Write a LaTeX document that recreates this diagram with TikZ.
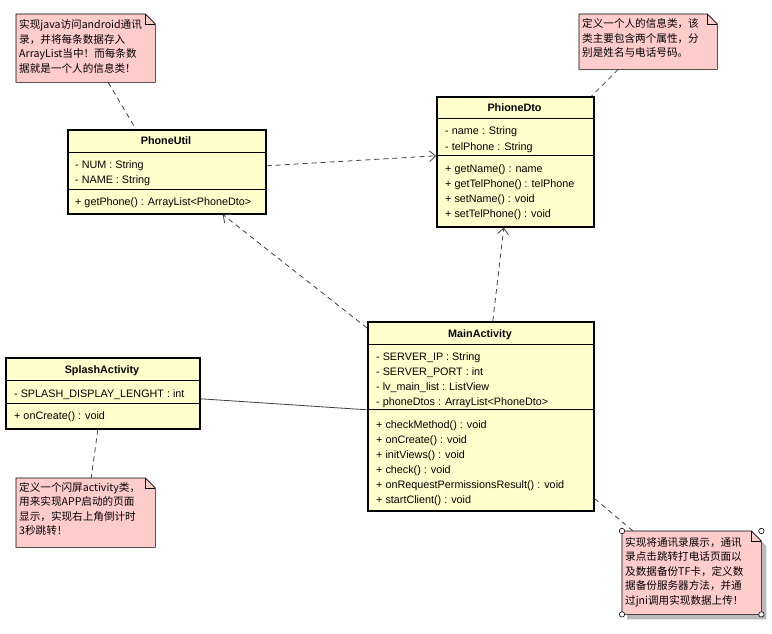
\documentclass[tikz,border=0pt]{standalone}
\usepackage{fontspec}
\setmainfont{Liberation Sans}
\newfontfamily\cjk{Noto Sans CJK SC}
\usepackage{tikz}
\usetikzlibrary{arrows.meta}
\definecolor{ClassFill} {RGB}{255, 255, 204}
\definecolor{NoteFill}  {RGB}{255, 204, 204}
\definecolor{LinkGray}  {RGB}{ 64,  64,  64}
\definecolor{ShadowGray}{RGB}{185, 185, 185}
\newcommand{\drawnote}[1]{%
  \draw[notebox] (#1.south west) -- (#1.north west) -- ([xshift=-10pt]#1.north east)
    -- ([yshift=-10pt]#1.north east) -- (#1.south east) -- cycle;
  \draw[line width=0.6pt] ([xshift=-10pt]#1.north east) -- ([xshift=-10pt,yshift=-10pt]#1.north east)
    -- ([yshift=-10pt]#1.north east);}

\begin{document}
\begin{tikzpicture}[x=1pt, y=-1pt,
  cls/.style={draw, line width=1.6pt, fill=ClassFill, anchor=north west, inner sep=0pt},
  ttl/.style={font=\fontsize{10.8}{13}\selectfont\bfseries, anchor=base, inner sep=0pt},
  mbr/.style={font=\fontsize{10.8}{13}\selectfont, anchor=base west, inner sep=0pt},
  sep/.style={line width=0.8pt},
  note/.style={anchor=north west, inner sep=0pt},
  notebox/.style={draw, line width=0.6pt, fill=NoteFill},
  ntxt/.style={font=\cjk\fontsize{10.6}{13}\selectfont, anchor=base west, inner sep=0pt},
  dep/.style={dash pattern=on 5pt off 4pt, LinkGray, line width=0.8pt},
  arr/.style={dep, -{Straight Barb[length=6pt,width=11pt]}},
  assoc/.style={LinkGray, line width=0.8pt}
]
  \path[use as bounding box, fill=white] (0,0) rectangle (772,634);

  % classes
  \node[cls, minimum width=198pt, minimum height=84pt] (phoneutil) at (67,129) {};
  \draw[sep] ([yshift=-23pt]phoneutil.north west) -- ([yshift=-23pt]phoneutil.north east);
  \draw[sep] ([yshift=-60pt]phoneutil.north west) -- ([yshift=-60pt]phoneutil.north east);
  \node[ttl] (phoneutil-t) at (166,144) {PhoneUtil};
  \foreach \m [count=\i] in {- NUM : String, - NAME : String}
    \node[mbr] (phoneutil-a\i) at (75,{153+15*\i}) {\m};
  \node[mbr] (phoneutil-m1) at (75,205) {+ getPhone() : ArrayList<PhoneDto>};

  \node[cls, minimum width=157pt, minimum height=130pt] (phonedto) at (436,96) {};
  \draw[sep] ([yshift=-22pt]phonedto.north west) -- ([yshift=-22pt]phonedto.north east);
  \draw[sep] ([yshift=-59pt]phonedto.north west) -- ([yshift=-59pt]phonedto.north east);
  \node[ttl] (phonedto-t) at (514.5,111) {PhioneDto};
  \foreach \m [count=\i] in {- name : String, - telPhone : String}
    \node[mbr] (phonedto-a\i) at (445,{120+15*\i}) {\m};
  \foreach \m [count=\i] in {+ getName() : name, + getTelPhone() : telPhone,
                             + setName() : void, + setTelPhone() : void}
    \node[mbr] (phonedto-m\i) at (445,{157+15*\i}) {\m};

  \node[cls, minimum width=226pt, minimum height=189pt] (mainact) at (367,321) {};
  \draw[sep] ([yshift=-23pt]mainact.north west) -- ([yshift=-23pt]mainact.north east);
  \draw[sep] ([yshift=-88pt]mainact.north west) -- ([yshift=-88pt]mainact.north east);
  \node[ttl] (mainact-t) at (480,337) {MainActivity};
  \foreach \m [count=\i] in {- SERVER\_IP : String, - SERVER\_PORT : int,
                             - lv\_main\_list : ListView, - phoneDtos : ArrayList<PhoneDto>}
    \node[mbr] (mainact-a\i) at (376,{345+15*\i}) {\m};
  \foreach \m [count=\i] in {+ checkMethod() : void, + onCreate() : void, + initViews() : void,
                             + check() : void, + onRequestPermissionsResult() : void,
                             + startClient() : void}
    \node[mbr] (mainact-m\i) at (376,{413+15*\i}) {\m};

  \node[cls, minimum width=194pt, minimum height=71pt] (splash) at (5,357) {};
  \draw[sep] ([yshift=-23pt]splash.north west) -- ([yshift=-23pt]splash.north east);
  \draw[sep] ([yshift=-46pt]splash.north west) -- ([yshift=-46pt]splash.north east);
  \node[ttl] (splash-t) at (102,373) {SplashActivity};
  \node[mbr] (splash-a1) at (14,397) {- SPLASH\_DISPLAY\_LENGHT : int};
  \node[mbr] (splash-m1) at (14,419) {+ onCreate() : void};

  % notes
  \node[note, minimum width=139pt, minimum height=68pt] (nUtil) at (16,14) {};
  \drawnote{nUtil}
  \foreach \t [count=\i] in {实现java访问android通讯, 录，并将每条数据存入,
                             ArrayList当中！而每条数, 据就是一个人的信息类！}
    \node[ntxt] (nUtil-\i) at (19,{14.5+14.5*\i}) {\t};

  \node[note, minimum width=138pt, minimum height=55pt] (nDto) at (579,14) {};
  \drawnote{nDto}
  \foreach \t [count=\i] in {定义一个人的信息类，该, 类主要包含两个属性，分, 别是姓名与电话号码。}
    \node[ntxt] (nDto-\i) at (582,{13.5+14.5*\i}) {\t};

  \node[note, minimum width=139pt, minimum height=69pt] (nSplash) at (16,478) {};
  \drawnote{nSplash}
  \foreach \t [count=\i] in {定义一个闪屏activity类，, 用来实现APP启动的页面,
                             显示，实现右上角倒计时, 3秒跳转！}
    \node[ntxt] (nSplash-\i) at (19,{476.5+14.5*\i}) {\t};

  \node[note, minimum width=139pt, minimum height=83pt] (nMain) at (622,531) {};
  \fill[ShadowGray] ([shift={(5pt,-5pt)}]nMain.south west) -- ([shift={(5pt,-5pt)}]nMain.north west)
    -- ([shift={(-5pt,-5pt)}]nMain.north east) -- ([shift={(5pt,-15pt)}]nMain.north east)
    -- ([shift={(5pt,-5pt)}]nMain.south east) -- cycle;
  \drawnote{nMain}
  \foreach \t [count=\i] in {实现将通讯录展示，通讯, 录点击跳转打电话页面以, 及数据备份TF卡，定义数,
                             据备份服务器方法，并通, 过jni调用实现数据上传！}
    \node[ntxt] (nMain-\i) at (625,{531.5+14.5*\i}) {\t};
  \foreach \c in {north west, north east, south west, south east}
    \draw[fill=white, line width=0.6pt] (nMain.\c) circle (2.7pt);

  % links
  \draw[dep] ([xshift=22.5pt]nUtil.south) -- ([xshift=-31pt]phoneutil.north);
  \draw[dep] ([xshift=-30pt]nDto.south) -- ([xshift=-3pt]phonedto.north east);
  \draw[arr] ([yshift=6pt]phoneutil.east) -- ([yshift=6pt]phonedto.west);
  \draw[arr] ([yshift=-7pt]mainact.north west) -- ([xshift=56pt]phoneutil.south);
  \draw[arr] ([xshift=12pt]mainact.north) -- ([xshift=-11.5pt]phonedto.south);
  \draw[assoc] ([yshift=-5.5pt]splash.east) -- ([yshift=6.5pt]mainact.west);
  \draw[dep] ([xshift=-5pt]splash.south) -- ([xshift=5.5pt]nSplash.north);
  \draw[dep] ([yshift=13pt]mainact.south east) -- ([xshift=11pt]nMain.north west);
\end{tikzpicture}
\end{document}
